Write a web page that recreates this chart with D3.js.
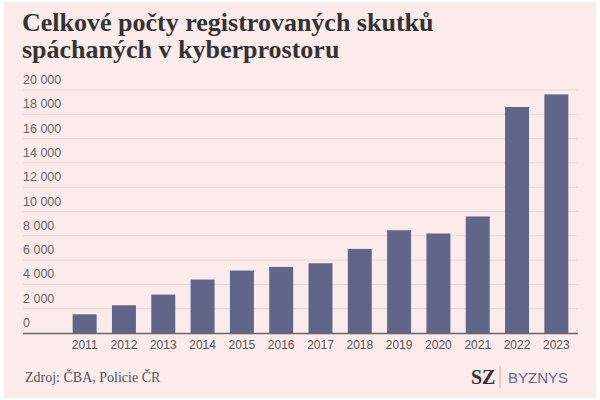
<!DOCTYPE html><html><head><meta charset="utf-8"><script src="https://cdn.jsdelivr.net/npm/d3@7"></script>
<style>body{margin:0;background:#fff}</style></head><body><svg id="c" width="600" height="400"></svg>
<script>
const years=["2011","2012","2013","2014","2015","2016","2017","2018","2019","2020","2021","2022","2023"];
const counts=[1540,2280,3160,4400,5140,5440,5740,6920,8460,8190,9590,18600,19640];
const yTicks=[0,2000,4000,6000,8000,10000,12000,14000,16000,18000,20000];
const svg=d3.select("#c");
svg.append("rect").attr("x",4).attr("y",2).attr("width",592).attr("height",396).attr("fill","#fcebeb");
svg.append("text").attr("x",22).attr("y",31).attr("font-family","Liberation Serif, serif").attr("font-weight","bold").attr("font-size",26).attr("fill","#333").text("Celkové počty registrovaných skutků");
svg.append("text").attr("x",22).attr("y",58).attr("font-family","Liberation Serif, serif").attr("font-weight","bold").attr("font-size",26).attr("fill","#333").text("spáchaných v kyberprostoru");
const x=d3.scaleBand().domain(years).range([65,576]).paddingInner(0.39).paddingOuter(0.195);
const y=d3.scaleLinear().domain([0,20000]).range([333,90]);
const fmt=v=>d3.format(",")(v).replace(/,/g," ");
const g=svg.append("g");
yTicks.forEach(t=>{
 if(t>0) g.append("line").attr("x1",23).attr("x2",578).attr("y1",y(t)).attr("y2",y(t)).attr("stroke","#e6d6d6").attr("stroke-width",1);
 g.append("text").attr("x",23).attr("y",y(t)-6).attr("font-family","Liberation Sans, sans-serif").attr("font-size",12.5).attr("fill","#666").text(fmt(t));
});
g.selectAll("rect.b").data(years).enter().append("rect").attr("class","b")
 .attr("x",d=>x(d)).attr("width",x.bandwidth()).attr("y",(d,i)=>y(counts[i])).attr("height",(d,i)=>y(0)-y(counts[i])).attr("fill","#5f6689");
g.append("line").attr("x1",23).attr("x2",578).attr("y1",y(0)+0.5).attr("y2",y(0)+0.5).attr("stroke","#666").attr("stroke-width",1.5);
const xa=svg.append("g").attr("transform","translate(0,333)").call(d3.axisBottom(x).tickSize(0).tickPadding(7));
xa.select(".domain").remove();
xa.selectAll("text").attr("font-family","Liberation Sans, sans-serif").attr("font-size",12).attr("fill","#555");
svg.append("text").attr("x",25).attr("y",382).attr("font-family","Liberation Serif, serif").attr("font-size",14).attr("fill","#555").text("Zdroj: ČBA, Policie ČR");
svg.append("text").attr("x",471).attr("y",384).attr("font-family","Liberation Serif, serif").attr("font-weight","bold").attr("font-size",20).attr("fill","#333").text("SZ");
svg.append("line").attr("x1",500).attr("x2",500).attr("y1",366).attr("y2",388).attr("stroke","#e8a0a8");
svg.append("text").attr("x",508).attr("y",383).attr("font-family","Liberation Sans, sans-serif").attr("font-size",15).attr("fill","#666a8a").text("BYZNYS");
</script></body></html>
